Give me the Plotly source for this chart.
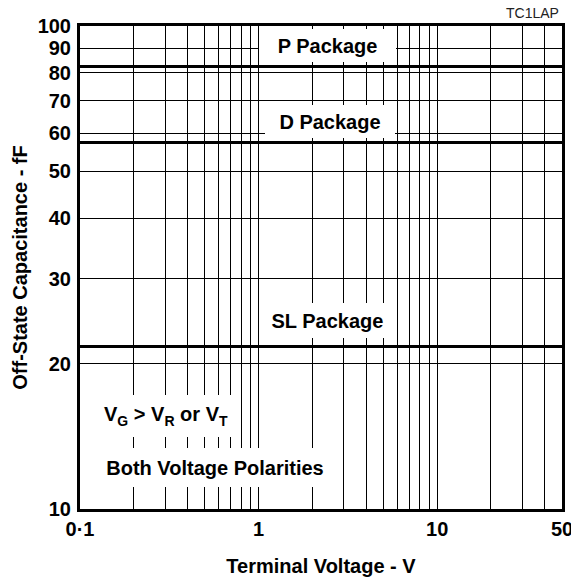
import math
import plotly.graph_objects as go

# ---- data ----
packages = ["P Package", "D Package", "SL Package"]
capacitance_fF = [82.4, 57.4, 21.7]          # off-state capacitance, flat over voltage
voltage_span = [0.1, 50]                     # terminal voltage range, V

x_tickvals = [0.1, 0.2, 0.3, 0.4, 0.5, 0.6, 0.7, 0.8, 0.9,
              1, 2, 3, 4, 5, 6, 7, 8, 9,
              10, 20, 30, 40, 50]
x_ticktext = ["0·1", "", "", "", "", "", "", "", "",
              "1", "", "", "", "", "", "", "", "",
              "10", "", "", "", "50"]
y_tickvals = [10, 20, 30, 40, 50, 60, 70, 80, 90, 100]
y_ticktext = ["10", "20", "30", "40", "50", "60", "70", "80", "90", "100"]

# label positions (voltage, capacitance) and box sizes
label_pos = {
    "P Package": (2.43, 91.1, 137, 33),
    "D Package": (2.51, 63.4, 130, 33),
    "SL Package": (2.43, 24.6, 131, 35),
}
cond_labels = [
    ("V<sub>G</sub> &gt; V<sub>R</sub> or V<sub>T</sub>", 0.303, 15.6, 142, 42),
    ("Both Voltage Polarities", 0.570, 12.2, 240, 39),
]

FONT = "Liberation Sans, Arial, sans-serif"
FS = 20

fig = go.Figure()
for name, c in zip(packages, capacitance_fF):
    fig.add_trace(go.Scatter(
        x=voltage_span, y=[c, c], mode="lines", name=name,
        line=dict(color="black", width=3), showlegend=False, hoverinfo="skip",
    ))

annotations = []
for name in packages:
    xv, yv, w, h = label_pos[name]
    annotations.append(dict(
        x=math.log10(xv), y=math.log10(yv), xref="x", yref="y",
        text="<b>%s</b>" % name, showarrow=False,
        font=dict(family=FONT, size=FS, color="black"),
        bgcolor="white", width=w, height=h, borderpad=0, borderwidth=0,
        xanchor="center", yanchor="middle",
    ))
for text, xv, yv, w, h in cond_labels:
    annotations.append(dict(
        x=math.log10(xv), y=math.log10(yv), xref="x", yref="y",
        text="<b>%s</b>" % text, showarrow=False,
        font=dict(family=FONT, size=FS, color="black"),
        bgcolor="white", width=w, height=h, borderpad=0, borderwidth=0,
        xanchor="center", yanchor="middle",
    ))
annotations.append(dict(
    x=1.0, y=1.0, xref="paper", yref="paper", xanchor="right", yanchor="bottom",
    xshift=-1, yshift=3, text="TC1LAP", showarrow=False,
    font=dict(family=FONT, size=14, color="#222"),
))

fig.update_layout(
    width=571, height=577,
    margin=dict(l=80, r=9, t=26, b=68, autoexpand=False),
    paper_bgcolor="white", plot_bgcolor="white",
    font=dict(family=FONT, size=FS, color="black"),
    annotations=annotations,
    xaxis=dict(
        type="log", range=[math.log10(voltage_span[0]), math.log10(voltage_span[1])],
        tickvals=x_tickvals, ticktext=x_ticktext,
        tickfont=dict(family=FONT, size=FS, color="black", weight="bold"),
        showgrid=True, gridcolor="black", gridwidth=1,
        showline=True, linecolor="black", linewidth=3, mirror=True,
        ticks="", ticklabelstandoff=0, ticklabeloverflow="allow", zeroline=False,
        title=dict(text="<b>Terminal Voltage - V</b>", standoff=23,
                   font=dict(family=FONT, size=FS, color="black")),
        automargin=False,
    ),
    yaxis=dict(
        type="log", range=[1, 2],
        tickvals=y_tickvals, ticktext=y_ticktext,
        tickfont=dict(family=FONT, size=FS, color="black", weight="bold"),
        showgrid=True, gridcolor="black", gridwidth=1,
        showline=True, linecolor="black", linewidth=3, mirror=True,
        ticks="", ticklabelstandoff=2, zeroline=False,
        title=dict(text="<b>Off-State Capacitance - fF</b>", standoff=5,
                   font=dict(family=FONT, size=FS, color="black")),
        automargin=False,
    ),
)

# remove the default page margin so the 571x577 figure fills the window exactly
fig.write_html("out.html",
               config={"displayModeBar": False},
               post_script="document.body.style.margin='0';document.body.style.overflow='hidden';")
